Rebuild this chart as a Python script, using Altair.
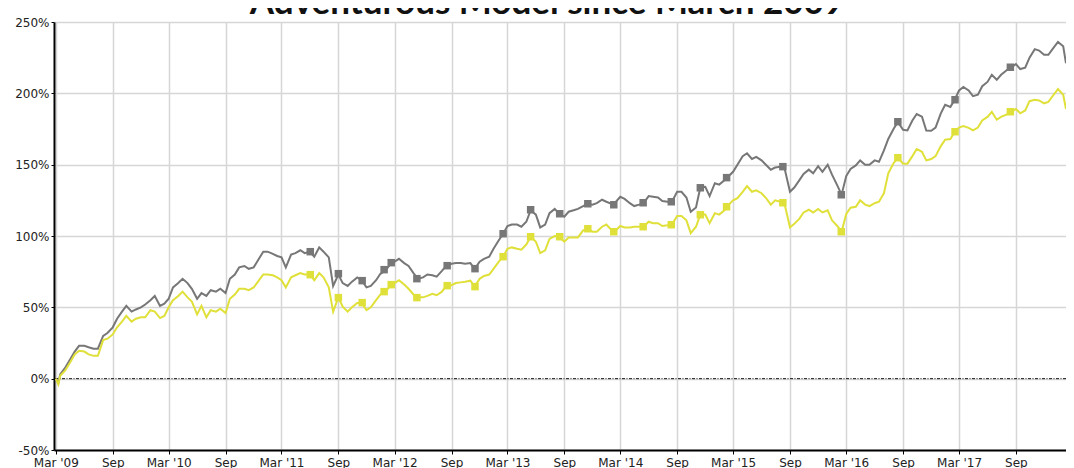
import altair as alt
import pandas as pd

TITLE = "Adventurous Model since March 2009"
SERIES = ["Adventurous Model", "Benchmark"]
COLORS = ["#777777", "#E0E03A"]

DATES = [
    "2009-03-01", "2009-03-09", "2009-03-15", "2009-04-01", "2009-04-15", "2009-05-01", "2009-05-15",
    "2009-06-01", "2009-06-15", "2009-07-01", "2009-07-15", "2009-08-01", "2009-08-15", "2009-09-01",
    "2009-09-15", "2009-10-01", "2009-10-15", "2009-11-01", "2009-11-15", "2009-12-01", "2009-12-15",
    "2010-01-01", "2010-01-15", "2010-02-01", "2010-02-15", "2010-03-01", "2010-03-15", "2010-04-01",
    "2010-04-15", "2010-05-01", "2010-05-15", "2010-06-01", "2010-06-15", "2010-07-01", "2010-07-15",
    "2010-08-01", "2010-08-15", "2010-09-01", "2010-09-15", "2010-10-01", "2010-10-15", "2010-11-01",
    "2010-11-15", "2010-12-01", "2010-12-15",
    "2011-01-01", "2011-01-15", "2011-02-01", "2011-02-15", "2011-03-01", "2011-03-15", "2011-04-01",
    "2011-04-15", "2011-05-01", "2011-05-15", "2011-06-01", "2011-06-15", "2011-07-01", "2011-07-15",
    "2011-08-01", "2011-08-15", "2011-09-01", "2011-09-15", "2011-10-01", "2011-10-15", "2011-11-01",
    "2011-11-15", "2011-12-01", "2011-12-15",
    "2012-01-01", "2012-01-15", "2012-02-01", "2012-02-15", "2012-03-01", "2012-03-15", "2012-04-01",
    "2012-04-15", "2012-05-01", "2012-05-15", "2012-06-01", "2012-06-15", "2012-07-01", "2012-07-15",
    "2012-08-01", "2012-08-15", "2012-09-01", "2012-09-15", "2012-10-01", "2012-10-15", "2012-11-01",
    "2012-11-15", "2012-12-01", "2012-12-15",
    "2013-01-01", "2013-01-15", "2013-02-01", "2013-02-15", "2013-03-01", "2013-03-15", "2013-04-01",
    "2013-04-15", "2013-05-01", "2013-05-15", "2013-06-01", "2013-06-15", "2013-07-01", "2013-07-15",
    "2013-08-01", "2013-08-15", "2013-09-01", "2013-09-15", "2013-10-01", "2013-10-15", "2013-11-01",
    "2013-11-15", "2013-12-01", "2013-12-15",
    "2014-01-01", "2014-01-15", "2014-02-01", "2014-02-15", "2014-03-01", "2014-03-15", "2014-04-01",
    "2014-04-15", "2014-05-01", "2014-05-15", "2014-06-01", "2014-06-15", "2014-07-01", "2014-07-15",
    "2014-08-01", "2014-08-15", "2014-09-01", "2014-09-15", "2014-10-01", "2014-10-15", "2014-11-01",
    "2014-11-15", "2014-12-01", "2014-12-15",
    "2015-01-01", "2015-01-15", "2015-02-01", "2015-02-15", "2015-03-01", "2015-03-15", "2015-04-01",
    "2015-04-15", "2015-05-01", "2015-05-15", "2015-06-01", "2015-06-15", "2015-07-01", "2015-07-15",
    "2015-08-01", "2015-08-15", "2015-09-01", "2015-09-15", "2015-10-01", "2015-10-15", "2015-11-01",
    "2015-11-15", "2015-12-01", "2015-12-15",
    "2016-01-01", "2016-01-15", "2016-02-01", "2016-02-15", "2016-03-01", "2016-03-15", "2016-04-01",
    "2016-04-15", "2016-05-01", "2016-05-15", "2016-06-01", "2016-06-15", "2016-07-01", "2016-07-15",
    "2016-08-01", "2016-08-15", "2016-09-01", "2016-09-15", "2016-10-01", "2016-10-15", "2016-11-01",
    "2016-11-15", "2016-12-01", "2016-12-15",
    "2017-01-01", "2017-01-15", "2017-02-01", "2017-02-15", "2017-03-01", "2017-03-15", "2017-04-01",
    "2017-04-15", "2017-05-01", "2017-05-15", "2017-06-01", "2017-06-15", "2017-07-01", "2017-07-15",
    "2017-08-01", "2017-08-15", "2017-09-01", "2017-09-15", "2017-10-01", "2017-10-15", "2017-11-01",
    "2017-11-15", "2017-12-01", "2017-12-15",
    "2018-01-01", "2018-01-15", "2018-02-01", "2018-02-10",
]

GRAY = [
    0, -3, 3, 8, 13, 19, 23, 23, 22, 21, 21, 30, 32, 36, 42, 47, 51, 47, 48.5, 50, 52,
    55, 58, 51, 52.5, 56, 64, 67, 70, 67, 63, 56, 60, 58, 62, 61, 63, 60, 70, 73, 78, 79, 77, 78, 83,
    89, 89, 87.5, 86, 85, 78, 87, 88, 90, 88, 89, 85.5, 92, 89, 85, 65, 73, 67, 65, 68, 71, 69, 64, 65,
    69, 73.5, 76, 80, 82, 84, 81, 79, 74, 70, 71, 73, 72.5, 71.5, 75.5, 79, 80.5, 81, 81, 80.5, 81, 77, 82, 84,
    85.5, 91, 97, 101.6, 107, 108, 108, 106.5, 110, 118, 115, 106, 108, 116, 119, 115.6, 113.5, 117, 118, 119, 121, 122.6, 122, 123,
    125.4, 124, 122.5, 124, 127.5, 126, 123, 121, 122, 123, 128, 127.5, 127, 124.5, 124, 124, 131, 131, 127, 117, 120, 134, 134.5, 128,
    137, 136, 139, 142, 145, 150, 156, 158, 154, 155.5, 153, 150, 146.5, 148, 148.5, 147, 131, 134, 139, 143.5, 146.5, 144, 149, 145,
    150, 143, 135.5, 129, 142, 147, 149.5, 153, 150, 150, 153, 152, 160, 168, 175, 180, 174.5, 174, 181, 185.5, 183.6, 174, 173.8, 176,
    186, 192, 190.5, 195.5, 202, 204.5, 202, 198, 199, 205, 208, 213, 209.5, 213, 216, 218, 220.5, 217, 218, 225, 231, 230, 227, 227,
    232, 236, 233, 221,
]

YELLOW = [
    0, -4, 2, 6, 11, 17, 19.5, 19, 17, 16, 16, 27, 28, 31, 36, 40, 44, 40, 42, 43, 43,
    48, 47, 42.5, 44, 50, 55, 58, 61, 57, 54, 45, 51, 43, 48, 47, 49, 46, 56, 59, 63, 63, 62, 64, 68,
    73, 73, 72.5, 71, 69, 64, 71, 72.5, 74, 73, 73, 69, 74, 71, 64, 47, 57, 50.5, 47, 50, 53, 53, 48, 50,
    55, 59, 61, 65, 67, 69, 66, 63, 59, 57, 57, 58, 59.5, 58.5, 61, 65, 65.5, 67, 67.5, 68, 68.7, 64.5, 70, 72,
    73, 77, 82, 85.5, 91, 92, 91, 90.4, 94, 99.5, 96, 88, 90, 98, 100, 99.5, 96, 99, 99, 99, 104, 105, 103, 103,
    106.5, 108, 104, 104, 107, 106, 106, 106.5, 106.5, 106.5, 110, 109, 109, 107, 107.5, 108, 114, 114, 111, 102, 106.5, 115, 115, 109,
    116, 115, 118, 122, 125, 126.5, 131, 135, 131, 132, 130, 126.8, 122, 125, 124, 122, 106, 108.5, 112, 116.5, 118.4, 116.5, 119, 116.5,
    118, 111, 107, 103, 115.5, 119.8, 120.5, 125, 122, 121, 123, 124, 130, 144, 151, 155, 150.7, 150.7, 156, 161, 159, 153, 154, 156,
    163, 167.5, 168, 173, 176, 177, 175.8, 174, 176, 181, 183.5, 187, 181.5, 183.5, 185, 187, 189, 186, 188, 194.5, 195.5, 195, 193, 194,
    199, 203, 199, 189,
]

MARKER_DATES = [
    "2011-06-02", "2011-09-01", "2011-11-17", "2012-01-27", "2012-02-19", "2012-05-12", "2012-08-18",
    "2012-11-16", "2013-02-15", "2013-05-15", "2013-08-17", "2013-11-16", "2014-02-08", "2014-05-14",
    "2014-08-13", "2014-11-15", "2015-02-08", "2015-08-09", "2016-02-14", "2016-08-15", "2017-02-16",
    "2017-08-14",
]
MARKER_GRAY = [89, 73.6, 68.7, 76.4, 81.3, 70.1, 79.2, 77.1, 101.6, 118.4, 115.6, 122.6, 121.9, 123.3,
               124, 133.8, 140.9, 148.6, 128.9, 180.1, 195.5, 218.3]
MARKER_YELLOW = [72.9, 56.8, 53.3, 61, 65.9, 56.8, 65.2, 64.5, 85.5, 99.5, 99.5, 105.1, 103, 106.5,
                 107.9, 114.9, 120.5, 123.3, 103, 154.9, 173.1, 187.1]

TICK_DATES = [
    "2009-03-01", "2009-09-01", "2010-03-01", "2010-09-01", "2011-03-01", "2011-09-01",
    "2012-03-01", "2012-09-01", "2013-03-01", "2013-09-01", "2014-03-01", "2014-09-01",
    "2015-03-01", "2015-09-01", "2016-03-01", "2016-09-01", "2017-03-01", "2017-09-01",
]
Y_TICKS = [-50, 0, 50, 100, 150, 200, 250]
X_DOMAIN = ["2009-02-23", "2018-02-10"]


def to_dt(s):
    y, m, d = (int(p) for p in s.split("-"))
    return alt.DateTime(year=y, month=m, date=d)


n = len(DATES)
lines_df = pd.DataFrame({
    "date": pd.to_datetime(DATES * 2),
    "value": GRAY + YELLOW,
    "series": [SERIES[0]] * n + [SERIES[1]] * n,
})
m = len(MARKER_DATES)
markers_df = pd.DataFrame({
    "date": pd.to_datetime(MARKER_DATES * 2),
    "value": MARKER_GRAY + MARKER_YELLOW,
    "series": [SERIES[0]] * m + [SERIES[1]] * m,
})
zero_df = pd.DataFrame({"value": [0]})
title_df = pd.DataFrame({"t": [TITLE]})

x_scale = alt.Scale(domain=[to_dt(s) for s in X_DOMAIN])
y_scale = alt.Scale(domain=[-50, 250], nice=False, zero=False)
x_axis = alt.Axis(
    values=[to_dt(s) for s in TICK_DATES],
    labelExpr='month(datum.value) == 2 ? "Mar \'" + timeFormat(datum.value, "%y") : "Sep"',
    title=None, grid=True, tickSize=4, labelPadding=3, labelAlign="center",
)
y_axis = alt.Axis(
    values=Y_TICKS, labelExpr='datum.value + "%"', title=None, grid=True,
    tickSize=3, labelPadding=2,
)
color = alt.Color("series:N", scale=alt.Scale(domain=SERIES, range=COLORS), legend=None)

X = alt.X("date:T", scale=x_scale, axis=x_axis)
Y = alt.Y("value:Q", scale=y_scale, axis=y_axis)

lines = alt.Chart(lines_df).mark_line(strokeWidth=2).encode(x=X, y=Y, color=color)
markers = alt.Chart(markers_df).mark_square(size=56, opacity=1).encode(x=X, y=Y, color=color)
zero = alt.Chart(zero_df).mark_rule(color="#111111", strokeWidth=1, strokeDash=[3, 1.5, 1, 1.5]).encode(y=Y)
title = alt.Chart(title_df).mark_text(
    font="Lato", fontSize=35, fontWeight="bold", color="#111111",
    baseline="alphabetic", align="center",
).encode(x=alt.value(493), y=alt.value(-8), text="t:N")

chart = alt.layer(zero, lines, markers, title).properties(
    width=1012, height=428,
    autosize=alt.AutoSizeParams(type="none"),
    padding={"left": 46, "top": 14, "right": 0, "bottom": 18},
).configure_view(stroke=None).configure_axis(
    labelFont="DejaVu Sans", labelFontSize=12, labelColor="#222222",
    gridColor="#d6d6d6", gridWidth=1.5,
    domainColor="#000000", domainWidth=2, tickColor="#000000",
)

chart.save("out.html", embed_options={"renderer": "svg", "actions": False})
